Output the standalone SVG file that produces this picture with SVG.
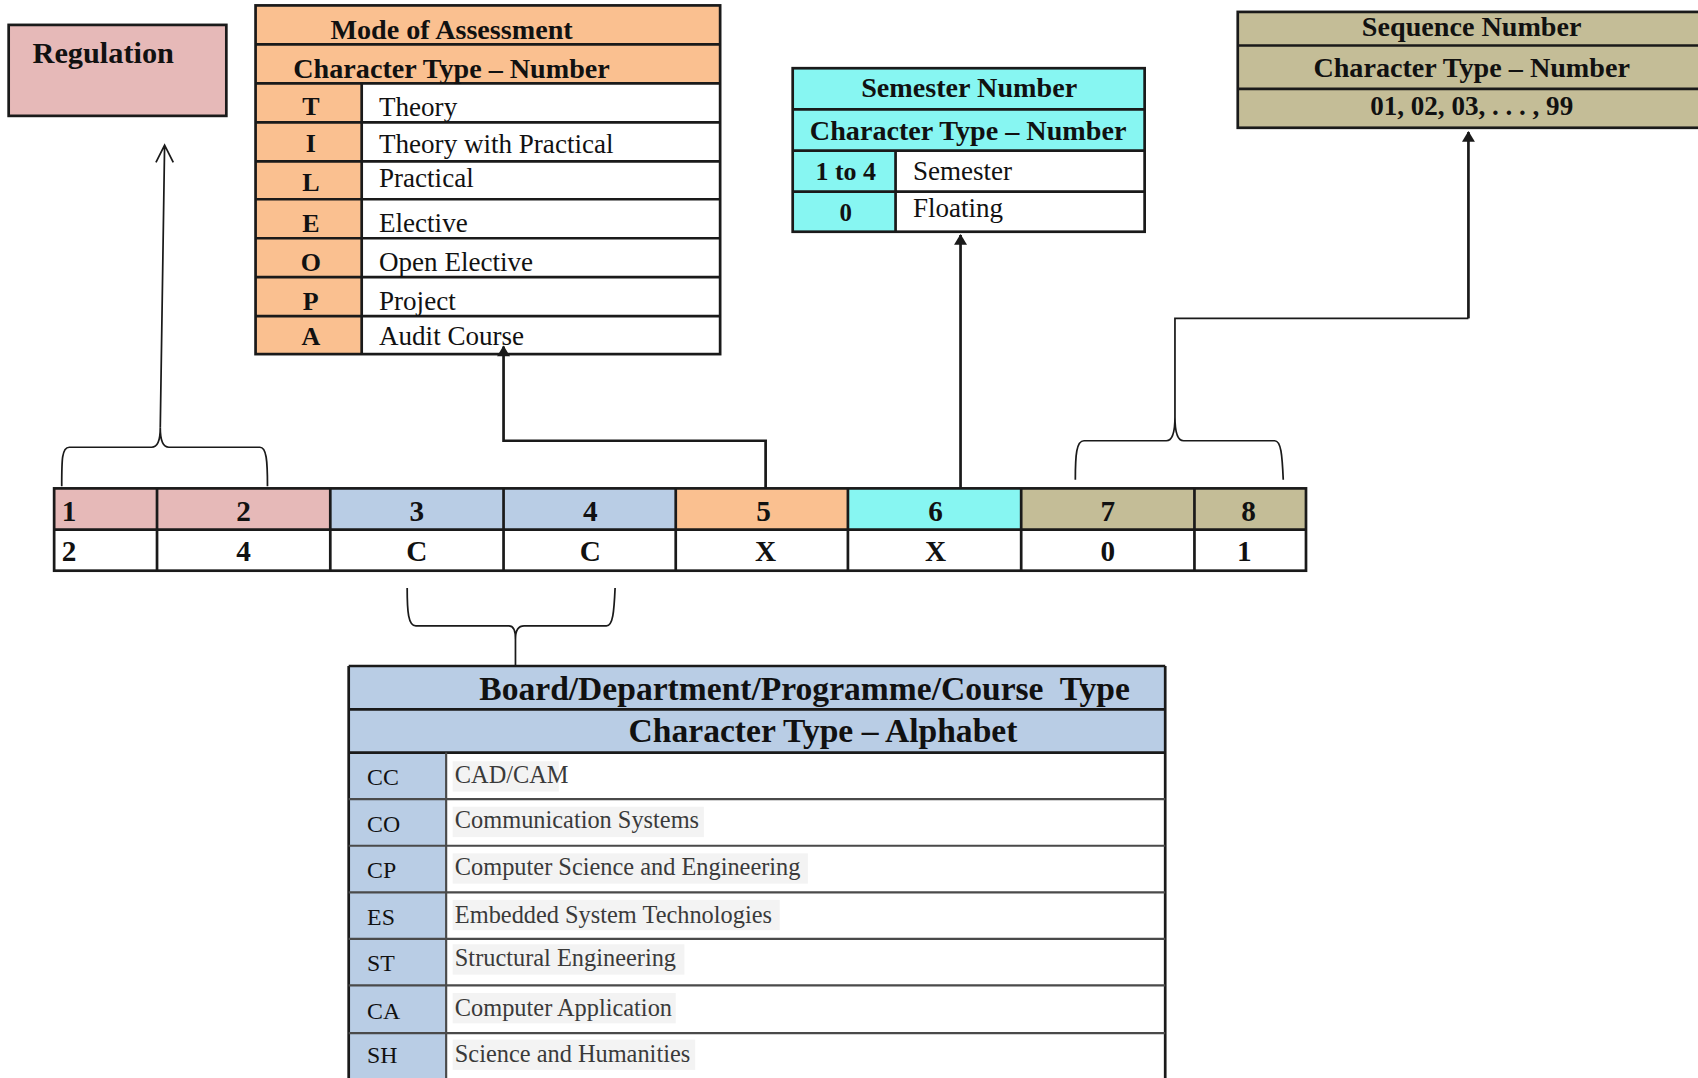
<svg xmlns="http://www.w3.org/2000/svg" width="1698" height="1078" viewBox="0 0 1698 1078">
<style>
.ln{stroke:#1a1a1a;stroke-width:2.5;fill:none}
.thin{stroke:#1a1a1a;stroke-width:1.6;fill:none}
.gl{stroke:#4a4a4a;stroke-width:2;fill:none}
.pink{fill:#E6B9B8}
.org{fill:#FAC090}
.blu{fill:#B9CDE5}
.cyn{fill:#87F6F2}
.tan{fill:#C4BD97}
.wht{fill:#FFFFFF}
.b{font-family:"Liberation Serif","DejaVu Serif",serif;font-weight:bold;fill:#111}
.r{font-family:"Liberation Serif","DejaVu Serif",serif;fill:#111}
.g{font-family:"Liberation Serif","DejaVu Serif",serif;fill:#3a3a3a;font-size:22.5px}
.hl{fill:#F3F3F3}
.m{text-anchor:middle}
</style>
<defs>
<marker id="arr" viewBox="0 0 10 12" refX="9" refY="6" markerWidth="12" markerHeight="12" orient="auto" markerUnits="userSpaceOnUse">
<path d="M0,0 L10,6 L0,12 z" fill="#1a1a1a"/>
</marker>
</defs>
<rect width="1698" height="1078" fill="#FFFFFF"/>
<g transform="scale(1.08291)">

<g id="regulation">
<rect x="8" y="23" width="201" height="84" class="pink ln"/>
<text x="30" y="58" class="b" font-size="28">Regulation</text>
</g>

<g id="mode-of-assessment">
<rect x="236" y="5" width="429" height="72" class="org"/>
<rect x="236" y="77" width="98" height="250" class="org"/>
<rect x="334" y="77" width="331" height="250" class="wht"/>
<rect x="236" y="5" width="429" height="322" class="ln"/>
<path class="ln" d="M236,41H665M236,77H665M236,113H665M236,149H665M236,184H665M236,220H665M236,256H665M236,292H665M334,77V327"/>
<text x="417" y="36" class="b m" font-size="26">Mode of Assessment</text>
<text x="417" y="72" class="b m" font-size="26">Character Type – Number</text>
<g class="b m" font-size="24">
<text x="287" y="106">T</text>
<text x="287" y="140">I</text>
<text x="287" y="176">L</text>
<text x="287" y="214">E</text>
<text x="287" y="250">O</text>
<text x="287" y="286">P</text>
<text x="287" y="319">A</text>
</g>
<g class="r" font-size="25">
<text x="350" y="107">Theory</text>
<text x="350" y="141">Theory with Practical</text>
<text x="350" y="173">Practical</text>
<text x="350" y="214">Elective</text>
<text x="350" y="250">Open Elective</text>
<text x="350" y="286">Project</text>
<text x="350" y="319">Audit Course</text>
</g>
</g>

<g id="semester-number">
<rect x="732" y="63" width="325" height="76" class="cyn"/>
<rect x="732" y="139" width="95" height="75" class="cyn"/>
<rect x="827" y="139" width="230" height="75" class="wht"/>
<rect x="732" y="63" width="325" height="151" class="ln"/>
<path class="ln" d="M732,101H1057M732,139H1057M732,177H1057M827,139V214"/>
<text x="895" y="90" class="b m" font-size="26">Semester Number</text>
<text x="894" y="129" class="b m" font-size="26">Character Type – Number</text>
<text x="781" y="166" class="b m" font-size="24">1 to 4</text>
<text x="781" y="204" class="b m" font-size="23">0</text>
<text x="843" y="166" class="r" font-size="25">Semester</text>
<text x="843" y="200" class="r" font-size="25">Floating</text>
</g>

<g id="sequence-number">
<rect x="1143" y="11" width="440" height="107" class="tan ln"/>
<path class="ln" d="M1143,42H1583M1143,82H1583"/>
<text x="1359" y="33" class="b m" font-size="26">Sequence Number</text>
<text x="1359" y="71" class="b m" font-size="26">Character Type – Number</text>
<text x="1359" y="106" class="b m" font-size="25">01, 02, 03, . . . , 99</text>
</g>

<g id="code-table">
<rect x="50" y="451" width="255" height="38" class="pink"/>
<rect x="305" y="451" width="319" height="38" class="blu"/>
<rect x="624" y="451" width="159" height="38" class="org"/>
<rect x="783" y="451" width="160" height="38" class="cyn"/>
<rect x="943" y="451" width="263" height="38" class="tan"/>
<rect x="50" y="489" width="1156" height="38" class="wht"/>
<rect x="50" y="451" width="1156" height="76" class="ln"/>
<path class="ln" d="M50,489H1206M145,451V527M305,451V527M465,451V527M624,451V527M783,451V527M943,451V527M1103,451V527"/>
<g class="b" font-size="27">
<text x="57" y="481">1</text>
<text x="57" y="518">2</text>
</g>
<g class="b m" font-size="27">
<text x="225" y="481">2</text>
<text x="385" y="481">3</text>
<text x="545" y="481">4</text>
<text x="705" y="481">5</text>
<text x="864" y="481">6</text>
<text x="1023" y="481">7</text>
<text x="1153" y="481">8</text>
<text x="225" y="518">4</text>
<text x="385" y="518">C</text>
<text x="545" y="518">C</text>
<text x="707" y="518">X</text>
<text x="864" y="518">X</text>
<text x="1023" y="518">0</text>
<text x="1149" y="518">1</text>
</g>
</g>

<g id="board-department">
<rect x="322" y="615" width="754" height="80" class="blu"/>
<rect x="322" y="695" width="90" height="320" class="blu"/>
<rect x="412" y="695" width="664" height="320" class="wht"/>
<g class="hl">
<rect x="418" y="703" width="98" height="28"/>
<rect x="418" y="745" width="232" height="28"/>
<rect x="418" y="788" width="328" height="28"/>
<rect x="418" y="831" width="302" height="28"/>
<rect x="418" y="872" width="214" height="28"/>
<rect x="418" y="917" width="206" height="28"/>
<rect x="418" y="960" width="224" height="28"/>
</g>
<path class="ln" d="M322,615V1015M1076,615V1015M322,615H1076M322,655H1076M322,695H1076"/>
<path class="gl" d="M322,738H1076M322,781H1076M322,824H1076M322,867H1076M322,910H1076M322,954H1076M322,997H1076M412,695V1015"/>
<text x="743" y="646" class="b m" font-size="31">Board/Department/Programme/Course&#160; Type</text>
<text x="760" y="685" class="b m" font-size="31">Character Type – Alphabet</text>
<g class="r" font-size="22">
<text x="339" y="725">CC</text>
<text x="339" y="768">CO</text>
<text x="339" y="811">CP</text>
<text x="339" y="854">ES</text>
<text x="339" y="897">ST</text>
<text x="339" y="941">CA</text>
<text x="339" y="982">SH</text>
</g>
<g class="g">
<text x="420" y="723">CAD/CAM</text>
<text x="420" y="765">Communication Systems</text>
<text x="420" y="808">Computer Science and Engineering</text>
<text x="420" y="852">Embedded System Technologies</text>
<text x="420" y="892">Structural Engineering</text>
<text x="420" y="938">Computer Application</text>
<text x="420" y="981">Science and Humanities</text>
</g>
</g>

<g id="connectors">
<path class="thin" d="M57,449C57,425 57,413 64,413L140,413C146,413 148,405 148,395C148,405 150,413 156,413L240,413C246,413 247,425 247,449"/>
<path class="thin" d="M148,395L152,134M144,150L152,134L160,150"/>
<path class="thin" d="M993,443C993,420 994,407 1001,407L1077,407C1083,407 1085,398 1085,385C1085,398 1087,407 1093,407L1177,407C1183,407 1184,420 1185,443"/>
<path class="thin" d="M1085,385V294H1356"/>
<path class="ln" d="M1356,294V122" marker-end="url(#arr)"/>
<path class="thin" d="M376,543C376,565 377,578 384,578L470,578C475,578 476,584 476,590C476,584 478,578 484,578L560,578C566,578 567,565 568,543"/>
<path class="thin" d="M476,590V615"/>
<path class="ln" d="M707,451V407H465V320" marker-end="url(#arr)"/>
<path class="ln" d="M887,451V217" marker-end="url(#arr)"/>
</g>

</g>
</svg>
